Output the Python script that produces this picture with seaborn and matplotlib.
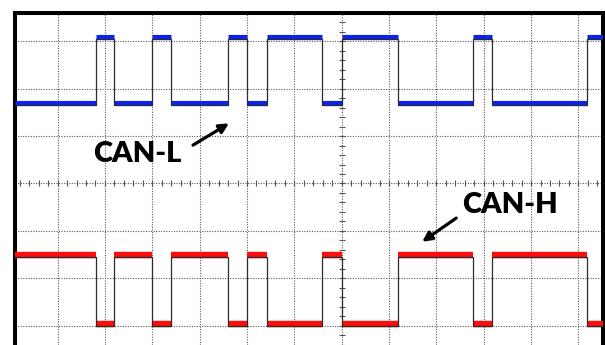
import numpy as np
import pandas as pd
import seaborn as sns
import matplotlib.pyplot as plt

# --- scope screen, 1 unit = 1 division ---
x_span = (-6.90, 5.52)
y_span = (-3.41, 3.60)

# bus edges (division positions)
edges = [-5.19, -4.80, -4.00, -3.60, -2.40, -2.00, -1.58,
         -0.41, 0.01, 1.19, 2.78, 3.18, 5.19]

# (recessive, dominant) levels for each wire
canl_levels = (1.70, 3.10)
canh_levels = (-1.52, -2.97)

signals = ['CAN-L', 'CAN-H']
colors = {'CAN-L': '#0a22f2', 'CAN-H': '#ff0d0d'}
widths = {'CAN-L': 3.7, 'CAN-H': 4.6}

# annotation positions (divisions)
canl_label = (-4.32, 0.63)
canl_arrow = ((-3.14, 0.81), (-2.38, 1.27))
canh_label = (3.56, -0.45)
canh_arrow = ((2.42, -0.73), (1.70, -1.23))

# --- build tables ---
times = [x_span[0]] + edges + [x_span[1]]
states = [i % 2 for i in range(len(edges) + 1)]
trace_rows = []
band_rows = []
for name, lv in zip(signals, [canl_levels, canh_levels]):
    for i, s in enumerate(states):
        trace_rows.append((name, times[i], lv[s]))
        band_rows.append((name, i, times[i], lv[s]))
        band_rows.append((name, i, times[i + 1], lv[s]))
    trace_rows.append((name, times[-1], lv[states[-1]]))

trace = pd.DataFrame(trace_rows, columns=['signal', 't', 'v'])
bands = pd.DataFrame(band_rows, columns=['signal', 'seg', 't', 'v'])

# --- draw ---
sns.set_style('white')
fig = plt.figure(figsize=(6.05, 3.45), dpi=100)
ax = fig.add_axes([15 / 605, 0, 588 / 605, 332 / 345])

ax.set_xticks(range(-6, 6))
ax.set_yticks(range(-3, 4))
ax.grid(True, color='#5a5a5a', linestyle=(0, (1, 1.3)), lw=0.8)
ax.tick_params(length=0, labelbottom=False, labelleft=False)

# center graticule ticks
minor_x = np.arange(-6.8, 5.6, 0.2)
minor_y = np.arange(-3.4, 3.6, 0.2)
ax.plot(minor_x, np.zeros_like(minor_x), ls='none', marker='|', ms=4.5,
        mew=0.8, color='#555555')
ax.plot(np.zeros_like(minor_y), minor_y, ls='none', marker='_', ms=4.5,
        mew=0.8, color='#555555')

for name in signals:
    sns.lineplot(data=bands[bands['signal'] == name], x='t', y='v',
                 units='seg', estimator=None, sort=False,
                 color=colors[name], lw=widths[name],
                 solid_capstyle='butt', legend=False, ax=ax, zorder=3)

trace_off = trace.copy()
trace_off['v'] = trace_off['v'] - 0.04
sns.lineplot(data=trace_off, x='t', y='v', units='signal', estimator=None,
             sort=False, color='#2b2b2b', lw=0.9, drawstyle='steps-post',
             legend=False, ax=ax, zorder=4)

ax.set_xlim(*x_span)
ax.set_ylim(*y_span)
ax.set_xlabel('')
ax.set_ylabel('')

for side in ['left', 'top', 'right']:
    ax.spines[side].set_visible(True)
    ax.spines[side].set_color('black')
    ax.spines[side].set_linewidth(2.9)
ax.spines['bottom'].set_visible(False)

font = dict(family=['Lato', 'DejaVu Sans'], weight='heavy', size=21,
            color='black')
ax.text(*canl_label, 'CAN-L', ha='center', va='center', zorder=5, **font)
ax.text(*canh_label, 'CAN-H', ha='center', va='center', zorder=5, **font)
for tail, head in [canl_arrow, canh_arrow]:
    ax.annotate('', xy=head, xytext=tail, zorder=5,
                arrowprops=dict(arrowstyle='-|>', color='black', lw=2.3,
                                mutation_scale=14, shrinkA=0, shrinkB=0))

fig.savefig('out.png', dpi=100)
